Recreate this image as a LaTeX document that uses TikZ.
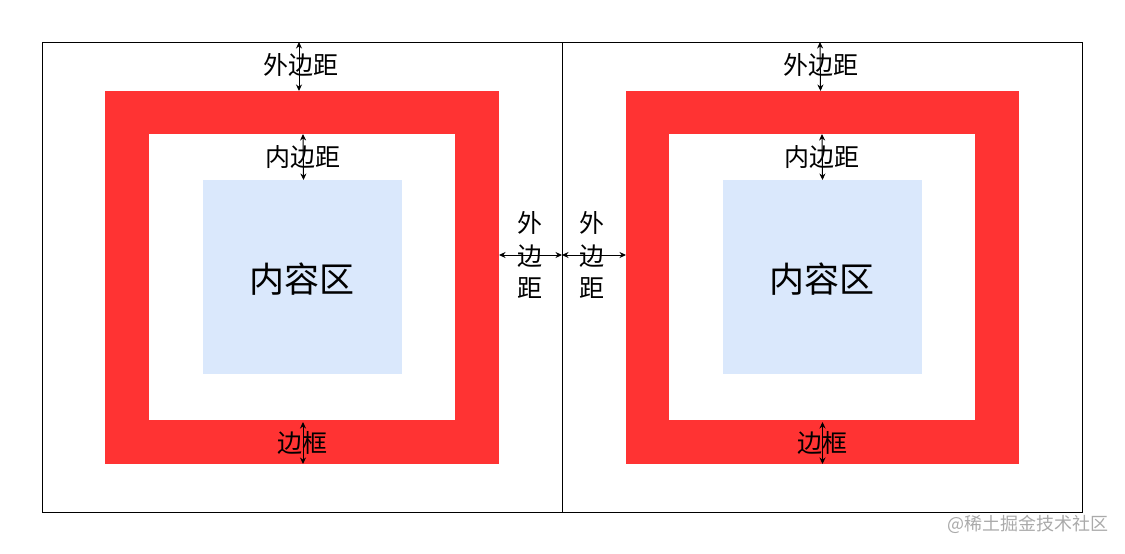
\documentclass[tikz,border=0pt]{standalone}
\usepackage{fontspec}
\newfontfamily\cjk{Noto Sans CJK SC}
\usetikzlibrary{arrows.meta,calc}
\definecolor{bordred}{HTML}{FF3333}
\definecolor{contblue}{HTML}{DAE8FC}
\definecolor{wmgray}{HTML}{AAAAAA}
\begin{document}
\begin{tikzpicture}[x=1pt,y=-1pt,
  box/.style={inner sep=0pt,outer sep=0pt,anchor=north west},
  outerbox/.style={box,draw=black,line width=1pt},
  redbox/.style={box,fill=bordred},
  padbox/.style={box,fill=white},
  contbox/.style={box,fill=contblue},
  lbl/.style={font=\cjk\fontsize{25}{25}\selectfont,inner sep=0pt},
  vlbl/.style={font=\cjk\fontsize{25}{32.5}\selectfont,inner sep=0pt,align=center},
  biglbl/.style={font=\cjk\fontsize{35}{35}\selectfont,inner sep=0pt},
  dim/.style={line width=1pt,{Stealth[length=6.5pt,width=6pt]}-{Stealth[length=6.5pt,width=6pt]}}]
\useasboundingbox (0,0) rectangle (1125,554);
% left element
\node[outerbox,minimum width=520,minimum height=470] (Lout) at (42,42) {};
\node[redbox,minimum width=394,minimum height=373] (Lred) at (105,91) {};
\node[padbox,minimum width=306,minimum height=286] (Lpad) at (149,134) {};
\node[contbox,minimum width=199,minimum height=194] (Lcont) at (203,180) {};
% right element
\node[outerbox,minimum width=520,minimum height=470] (Rout) at (562,42) {};
\node[redbox,minimum width=393,minimum height=373] (Rred) at (626,91) {};
\node[padbox,minimum width=306,minimum height=286] (Rpad) at (669,134) {};
\node[contbox,minimum width=199,minimum height=194] (Rcont) at (723,180) {};
% content labels
\node[biglbl] (Lct) at (302,279) {内容区};
\node[biglbl] (Rct) at (822,279) {内容区};
% left labels
\node[lbl] (Lm) at (301,65) {外边距};
\node[lbl] (Lp) at (303,157) {内边距};
\node[lbl] (Lb) at (302,443) {边框};
\draw[dim] ($(Lout.north)+(-3,0)$) -- ($(Lred.north)+(-3,0)$);
\draw[dim] ($(Lpad.north)+(1,0)$) -- ($(Lcont.north)+(1,0)$);
\draw[dim] ($(Lred.south)+(1,-42)$) -- ($(Lred.south)+(1,0)$);
% right labels
\node[lbl] (Rm) at (821,65) {外边距};
\node[lbl] (Rp) at (822,157) {内边距};
\node[lbl] (Rb) at (822,443) {边框};
\draw[dim] ($(Rout.north)+(-2,0)$) -- ($(Rred.north)+(-2,0)$);
\draw[dim] (Rpad.north) -- (Rcont.north);
\draw[dim] ($(Rred.south)+(0,-42)$) -- (Rred.south);
% middle margins
\node[vlbl] (Mm1) at (530,255) {外\\边\\距};
\node[vlbl] (Mm2) at (592,255) {外\\边\\距};
\draw[dim] (Lred.east |- 0,255) -- (Lout.east |- 0,255);
\draw[dim] (Rout.west |- 0,255) -- (Rred.west |- 0,255);
% watermark
\node[font=\cjk\fontsize{18}{18}\selectfont,text=wmgray,anchor=east,inner sep=0pt] (wm) at (1109,524) {@稀土掘金技术社区};
\end{tikzpicture}
\end{document}
